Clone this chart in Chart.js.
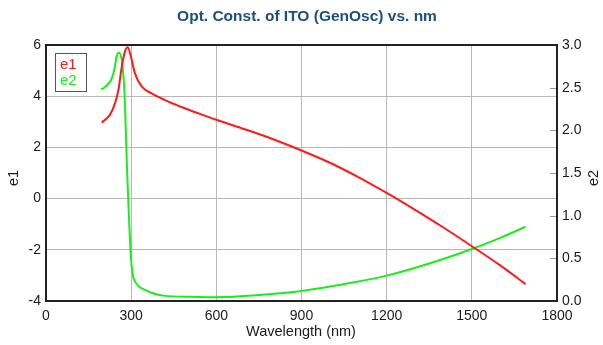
<!DOCTYPE html>
<html>
<head>
<meta charset="utf-8">
<script src="https://cdn.jsdelivr.net/npm/chart.js@4/dist/chart.umd.min.js"></script>
<style>
  html, body { margin: 0; padding: 0; background: #ffffff; }
  #wrap { width: 603px; height: 345px; position: relative; }
</style>
</head>
<body>
<div id="wrap"><canvas id="c" width="603" height="345"></canvas></div>
<script>
const chartTitle = "Opt. Const. of ITO (GenOsc) vs. nm";
const xTitle = "Wavelength (nm)";
const e1Label = "e1";
const e2Label = "e2";

const xTicks = [0, 300, 600, 900, 1200, 1500, 1800];
const e1Ticks = [-4, -2, 0, 2, 4, 6];
const e2Ticks = [0.0, 0.5, 1.0, 1.5, 2.0, 2.5, 3.0];

const e1Wavelength = [196, 225, 243, 255, 267, 278, 288, 299, 313, 337, 372, 419, 484, 542, 600, 700, 800, 900, 1000, 1100, 1200, 1300, 1400, 1500, 1600, 1689];
const e1Values     = [2.97, 3.27, 3.72, 4.24, 5.15, 5.74, 5.91, 5.55, 4.90, 4.38, 4.11, 3.85, 3.55, 3.31, 3.08, 2.71, 2.32, 1.88, 1.40, 0.84, 0.22, -0.44, -1.13, -1.86, -2.61, -3.34];

const e2Wavelength = [194, 205, 220, 231, 243, 248, 257, 267, 276, 286, 299, 306, 313, 349, 419, 507, 600, 750, 906, 1071, 1203, 1350, 1500, 1600, 1689];
const e2Values     = [2.48, 2.50, 2.55, 2.60, 2.75, 2.86, 2.91, 2.82, 2.47, 1.50, 0.52, 0.30, 0.23, 0.13, 0.06, 0.05, 0.045, 0.07, 0.12, 0.21, 0.30, 0.44, 0.61, 0.74, 0.87];

const e1Points = e1Wavelength.map((x, i) => ({ x: x, y: e1Values[i] }));
const e2Points = e2Wavelength.map((x, i) => ({ x: x, y: e2Values[i] }));

const FONT = "'Liberation Sans', Arial, Helvetica, sans-serif";
const TXT = '#1a1a1a';

const decor = {
  id: 'decor',
  afterDraw(chart) {
    const ctx = chart.ctx;
    const a = chart.chartArea;
    const y2 = chart.scales.y2;
    ctx.save();
    // right-axis inner tick marks
    ctx.strokeStyle = '#9a9a9a';
    ctx.lineWidth = 1;
    e2Ticks.forEach(v => {
      const py = Math.round(y2.getPixelForValue(v)) + 0.5;
      ctx.beginPath();
      ctx.moveTo(a.right - 7, py);
      ctx.lineTo(a.right, py);
      ctx.stroke();
    });
    // frame
    ctx.strokeStyle = '#222222';
    ctx.lineWidth = 2;
    ctx.strokeRect(a.left, a.top, a.right - a.left, a.bottom - a.top);
    // legend
    const ds = chart.data.datasets;
    ctx.strokeStyle = '#555555';
    ctx.lineWidth = 1;
    ctx.strokeRect(55.5, 53.5, 31, 38);
    ctx.font = '15px ' + FONT;
    ctx.textAlign = 'left';
    ctx.textBaseline = 'middle';
    ds.forEach((d, i) => {
      ctx.fillStyle = d.borderColor;
      ctx.fillText(d.label, 60, 65 + i * 16);
    });
    // title
    ctx.fillStyle = '#1b4f80';
    ctx.font = 'bold 15.5px ' + FONT;
    ctx.textAlign = 'center';
    ctx.fillText(chartTitle, 307, 17);
    // axis titles
    ctx.fillStyle = TXT;
    ctx.font = '14.5px ' + FONT;
    ctx.fillText(xTitle, 301, 332);
    const cy = 178;
    ctx.save();
    ctx.translate(14, cy);
    ctx.rotate(-Math.PI / 2);
    ctx.fillText(e1Label, 0, 0);
    ctx.restore();
    ctx.save();
    ctx.translate(594, cy);
    ctx.rotate(-Math.PI / 2);
    ctx.fillText(e2Label, 0, 0);
    ctx.restore();
    ctx.restore();
  }
};

new Chart(document.getElementById('c'), {
  type: 'line',
  data: {
    datasets: [
      { label: e1Label, data: e1Points, yAxisID: 'y', borderColor: '#ff1a1a', backgroundColor: '#ff1a1a',
        borderWidth: 2, pointRadius: 0, cubicInterpolationMode: 'monotone', fill: false },
      { label: e2Label, data: e2Points, yAxisID: 'y2', borderColor: '#1aee1a', backgroundColor: '#1aee1a',
        borderWidth: 2, pointRadius: 0, cubicInterpolationMode: 'monotone', fill: false }
    ]
  },
  options: {
    responsive: false,
    animation: false,
    devicePixelRatio: 1,
    layout: { padding: { top: 45, left: 0, right: 0, bottom: 0 } },
    plugins: { legend: { display: false }, title: { display: false }, tooltip: { enabled: false } },
    scales: {
      x: {
        type: 'linear', min: 0, max: 1800,
        afterBuildTicks: s => { s.ticks = xTicks.map(v => ({ value: v })); },
        afterFit: s => { s.height = 44; },
        grid: { color: '#b8b8b8', lineWidth: 1, drawTicks: false },
        border: { display: false },
        ticks: { color: TXT, font: { family: FONT, size: 14 }, padding: 7, maxRotation: 0, autoSkip: false,
                 callback: v => String(v) }
      },
      y: {
        type: 'linear', position: 'left', min: -4, max: 6,
        afterBuildTicks: s => { s.ticks = e1Ticks.map(v => ({ value: v })); },
        afterFit: s => { s.width = 46; },
        grid: { color: '#b8b8b8', lineWidth: 1, drawTicks: false },
        border: { display: false },
        ticks: { color: TXT, font: { family: FONT, size: 14 }, padding: 5, callback: v => String(v) }
      },
      y2: {
        type: 'linear', position: 'right', min: 0, max: 3,
        afterBuildTicks: s => { s.ticks = e2Ticks.map(v => ({ value: v })); },
        afterFit: s => { s.width = 46; },
        grid: { drawOnChartArea: false, drawTicks: false },
        border: { display: false },
        ticks: { color: TXT, font: { family: FONT, size: 14 }, padding: 5, callback: v => Number(v).toFixed(1) }
      }
    }
  },
  plugins: [decor]
});
</script>
</body>
</html>
